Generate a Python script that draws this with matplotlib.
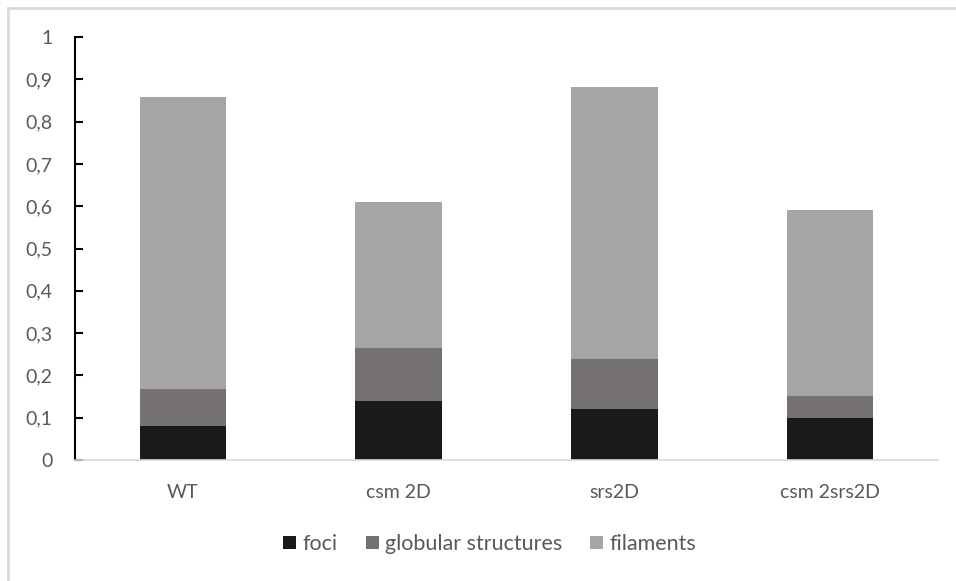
import matplotlib.pyplot as plt
from matplotlib.lines import Line2D
from matplotlib.ticker import FuncFormatter

plt.rcParams['font.family'] = ['Lato', 'DejaVu Sans']

categories = ['WT', 'csm 2D', 'srs2D', 'csm 2srs2D']
foci = [0.081, 0.139, 0.12, 0.10]
globular = [0.088, 0.126, 0.119, 0.051]
filaments = [0.688, 0.345, 0.643, 0.441]

colors = ['#1a1a1a', '#767171', '#a5a5a5']
text_color = '#595959'

fig = plt.figure(figsize=(9.56, 5.81), dpi=100)
ax = fig.add_axes([75 / 956, 1 - 460 / 581, (938 - 75) / 956, (460 - 37) / 581])

x = range(len(categories))
bottom2 = [a + b for a, b in zip(foci, globular)]
ax.bar(x, foci, width=0.4, color=colors[0], label='foci', zorder=2)
ax.bar(x, globular, width=0.4, bottom=foci, color=colors[1], label='globular structures', zorder=2)
ax.bar(x, filaments, width=0.4, bottom=bottom2, color=colors[2], label='filaments', zorder=2)

ax.set_xlim(-0.5, 3.5)
ax.set_ylim(0, 1)
ax.set_yticks([i / 10 for i in range(11)])
ax.yaxis.set_major_formatter(FuncFormatter(lambda v, p: '0' if v == 0 else ('1' if v == 1 else f'{v:.1f}'.replace('.', ','))))
ax.set_xticks(list(x))
ax.set_xticklabels(categories)

for s in ['top', 'right']:
    ax.spines[s].set_visible(False)
ax.spines['left'].set_color('black')
ax.spines['left'].set_linewidth(1.5)
ax.spines['bottom'].set_color('#d9d9d9')
ax.spines['bottom'].set_linewidth(1.2)

ax.tick_params(axis='y', direction='in', length=6, width=1.5, color='black',
               pad=16, labelsize=14, labelcolor=text_color)
ax.tick_params(axis='x', length=0, pad=17, labelsize=14, labelcolor=text_color)

leg = fig.legend(loc='center', bbox_to_anchor=(490 / 956, 1 - 544 / 581), ncol=3,
                 frameon=False, fontsize=15.5, handlelength=0.6, handleheight=0.6,
                 handletextpad=0.3, columnspacing=1.3)
for t in leg.get_texts():
    t.set_color(text_color)

# outer chart frame (top and left edges visible)
fig.add_artist(Line2D([8 / 956, 1], [1 - 8 / 581, 1 - 8 / 581], color='#d9d9d9', lw=2))
fig.add_artist(Line2D([8 / 956, 8 / 956], [0, 1 - 8 / 581], color='#d9d9d9', lw=2))

fig.savefig('out.png', dpi=100)
